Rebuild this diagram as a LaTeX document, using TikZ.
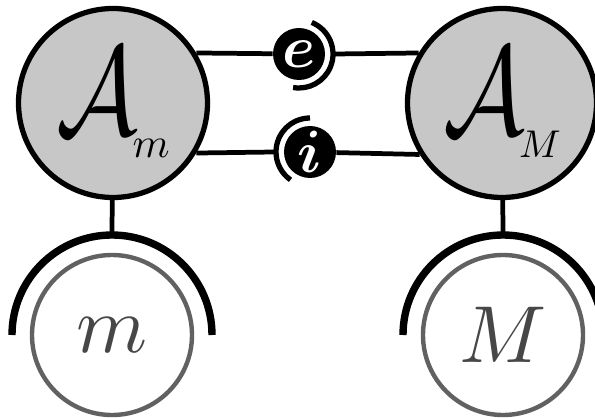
\documentclass[tikz,border=0pt]{standalone}
\usepackage{amsmath}
\usetikzlibrary{positioning, calc}

\begin{document}
\begin{tikzpicture}[
    agent/.style={draw, circle, fill=black!22, line width=3pt,
                  minimum size=3.78cm, inner sep=0pt},
    world/.style={draw=black!62, circle, fill=white, line width=2.5pt,
                  minimum size=3.2cm, inner sep=0pt, text=black!72},
    token/.style={circle, fill=black, text=white, minimum size=1.04cm,
                  inner sep=0pt},
    link/.style={line width=2.7pt},
    shell/.style={line width=4.2pt},
    tokenshell/.style={line width=3pt}
  ]
  \useasboundingbox (0, 0) rectangle (11.9, 8.34);

  % Agents
  \node[agent] (Am) at (2.26, 6.28)
    {\scalebox{5.8}[7.2]{$\mathcal{A}$}\kern-3pt\raisebox{-13pt}{\scalebox{2.4}{$m$}}};
  \node[agent] (AM) at (10.04, 6.28)
    {\scalebox{5.8}[7.2]{$\mathcal{A}$}\kern-3pt\raisebox{-13pt}{\scalebox{2.2}{$M$}}};

  % Worlds
  \node[world] (m) at (2.24, 1.64) {\scalebox{4.6}{$m$}};
  \node[world] (M) at (10.06, 1.64) {\scalebox{4.6}{$M$}};

  % Channels
  \node[token] (e) at (5.98, 7.26) {\scalebox{3.4}{$\boldsymbol{e}$}};
  \node[token] (i) at (6.20, 5.30) {\scalebox{3.4}{$\boldsymbol{i}$}};

  % Shells
  \draw[tokenshell] (e.center) ++(68:0.68) arc (68:-100:0.68);
  \draw[tokenshell] (i.center) ++(90:0.68) arc (90:235:0.68);
  \draw[shell] (m.center) ++(2, 0) arc (0:180:2);
  \draw[shell] (M.center) ++(2, 0) arc (0:180:2);

  \coordinate (eout) at ($(e)+(0.72, 0)$);
  \coordinate (iout) at ($(i)-(0.72, 0)$);
  \coordinate (mtop) at ($(m)+(0, 2.05)$);
  \coordinate (Mtop) at ($(M)+(0, 2.05)$);

  % Connections
  \draw[link] (Am.31) -- (e);
  \draw[link] (eout) -- (AM.149);
  \draw[link] (Am.-31) -- (iout);
  \draw[link] (i) -- (AM.-148);
  \draw[link] (Am) -- (mtop);
  \draw[link] (AM) -- (Mtop);
\end{tikzpicture}
\end{document}
